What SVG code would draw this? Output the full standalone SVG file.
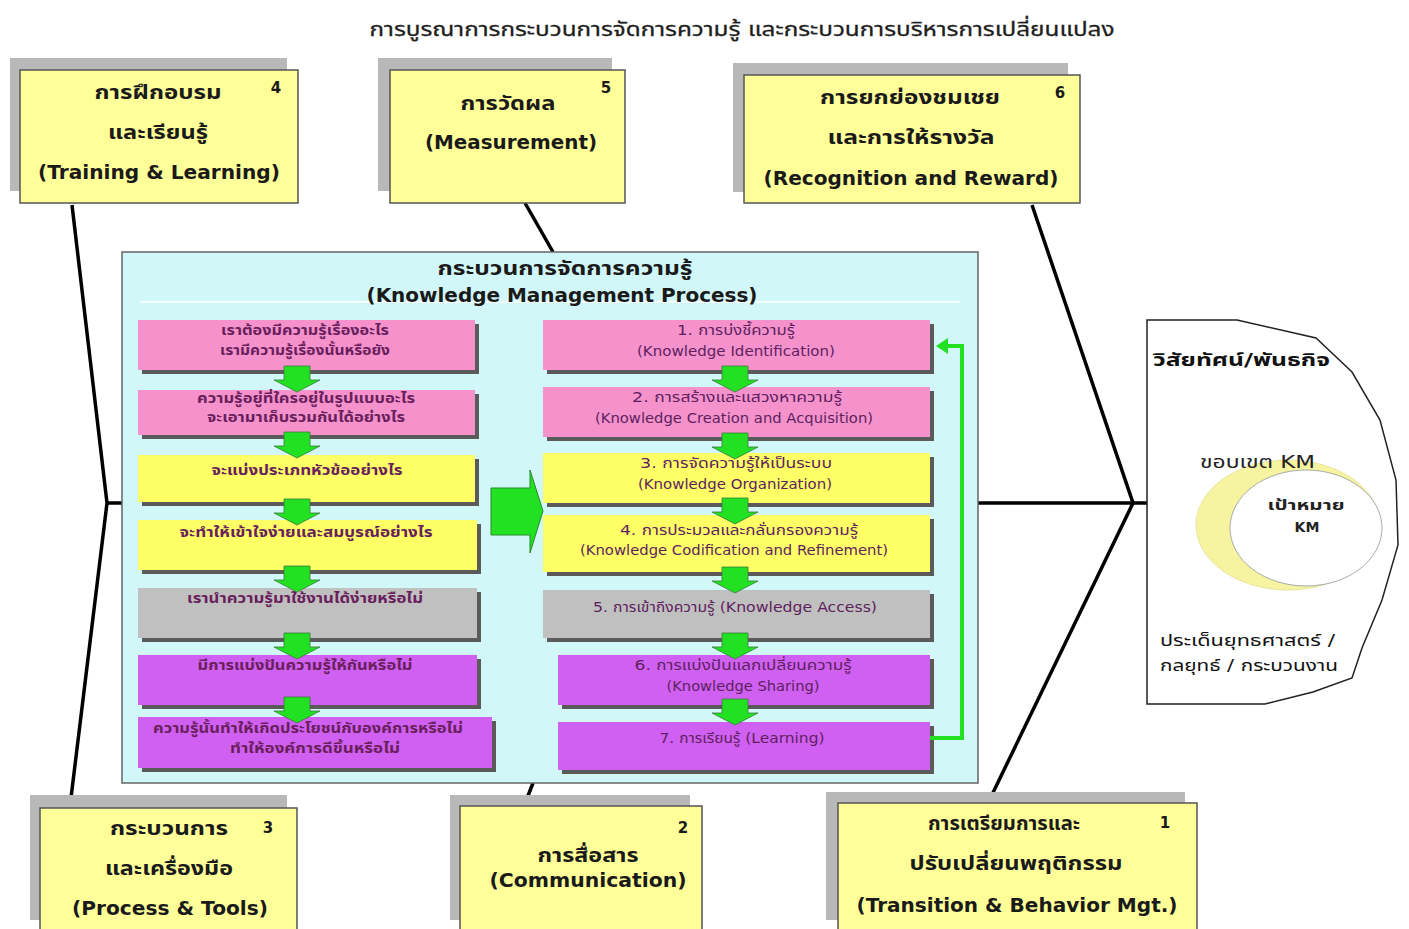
<svg xmlns="http://www.w3.org/2000/svg" xmlns:xlink="http://www.w3.org/1999/xlink" width="1409" height="929" viewBox="0 0 1409 929">
<style>
text{font-family:'DejaVu Sans','Noto Sans Thai','Loma','Tahoma',sans-serif;}
.t{text-anchor:middle;}
.big{font-size:19px;font-weight:bold;fill:#1a1a1a;}
.num{font-size:15px;font-weight:bold;fill:#1a1a1a;}
.cap{fill:#ffff99;stroke:#555;stroke-width:1.5;}
.capsh{fill:#b8b8b8;}
.sh{fill:#5a5a5a;}
.pink{fill:#f592cc;}
.yel{fill:#ffff66;}
.gry{fill:#c0c0c0;}
.pur{fill:#d060f2;}
.lt{font-size:13.5px;font-weight:bold;fill:#6a1f5c;}
.rt{font-size:14px;fill:#5e1f5e;}
.bone{stroke:#000;stroke-width:3.5;fill:none;}
</style>
<defs>
<path id="darr" d="M-13,0 H13 V14 H23 L0,26 L-23,14 H-13 Z" fill="#22e022" stroke="#3a7a3a" stroke-width="0.8"/>
</defs>
<rect width="1409" height="929" fill="#ffffff"/>

<text class="t" x="742" y="36" font-size="20" fill="#1e1e1e" stroke="#1e1e1e" stroke-width="0.3" textLength="745" lengthAdjust="spacingAndGlyphs">การบูรณาการกระบวนการจัดการความรู้  และกระบวนการบริหารการเปลี่ยนแปลง</text>

<g id="connectors">
<line class="bone" x1="107" y1="503" x2="1147" y2="503"/>
<polyline class="bone" points="72,205 107,503 70,806"/>
<line class="bone" x1="525" y1="203" x2="553" y2="252"/>
<line class="bone" x1="533" y1="783" x2="524" y2="806"/>
<polyline class="bone" points="1032,205 1133,503 988,803"/>
</g>

<g id="km-panel">
<rect x="122" y="252" width="856" height="531" fill="#d2f7f8" stroke="#666" stroke-width="1.5"/>
<line x1="140" y1="302" x2="960" y2="302" stroke="#f4ffff" stroke-width="2"/>
<text class="t" x="565" y="275" font-size="19" font-weight="bold" fill="#1a1a1a" textLength="255" lengthAdjust="spacingAndGlyphs">กระบวนการจัดการความรู้</text>
<text class="t" x="562" y="302" font-size="19" font-weight="bold" fill="#1a1a1a" textLength="391" lengthAdjust="spacingAndGlyphs">(Knowledge Management Process)</text>
</g>

<g id="left-1"><rect class="sh" x="142" y="324" width="337" height="50"/><rect class="pink" x="138" y="320" width="337" height="50"/>
<text class="t lt" x="305" y="335" textLength="168" lengthAdjust="spacingAndGlyphs">เราต้องมีความรู้เรื่องอะไร</text>
<text class="t lt" x="305" y="355" textLength="170" lengthAdjust="spacingAndGlyphs">เรามีความรู้เรื่องนั้นหรือยัง</text></g>
<g id="left-2"><rect class="sh" x="142" y="394" width="337" height="45"/><rect class="pink" x="138" y="390" width="337" height="45"/>
<text class="t lt" x="306" y="403" textLength="218" lengthAdjust="spacingAndGlyphs">ความรู้อยู่ที่ใครอยู่ในรูปแบบอะไร</text>
<text class="t lt" x="306" y="422" textLength="198" lengthAdjust="spacingAndGlyphs">จะเอามาเก็บรวมกันได้อย่างไร</text></g>
<g id="left-3"><rect class="sh" x="142" y="459" width="337" height="47"/><rect class="yel" x="138" y="455" width="337" height="47"/>
<text class="t lt" x="307" y="475" textLength="191" lengthAdjust="spacingAndGlyphs">จะแบ่งประเภทหัวข้ออย่างไร</text></g>
<g id="left-4"><rect class="sh" x="142" y="524" width="339" height="50"/><rect class="yel" x="138" y="520" width="339" height="50"/>
<text class="t lt" x="306" y="537" textLength="253" lengthAdjust="spacingAndGlyphs">จะทำให้เข้าใจง่ายและสมบูรณ์อย่างไร</text></g>
<g id="left-5"><rect class="sh" x="142" y="592" width="339" height="50"/><rect class="gry" x="138" y="588" width="339" height="50"/>
<text class="t lt" x="305" y="603" textLength="236" lengthAdjust="spacingAndGlyphs">เรานำความรู้มาใช้งานได้ง่ายหรือไม่</text></g>
<g id="left-6"><rect class="sh" x="142" y="659" width="339" height="50"/><rect class="pur" x="138" y="655" width="339" height="50"/>
<text class="t lt" x="305" y="670" textLength="215" lengthAdjust="spacingAndGlyphs">มีการแบ่งปันความรู้ให้กันหรือไม่</text></g>
<g id="left-7"><rect class="sh" x="142" y="721" width="354" height="51"/><rect class="pur" x="138" y="717" width="354" height="51"/>
<text class="t lt" x="308" y="733" textLength="310" lengthAdjust="spacingAndGlyphs">ความรู้นั้นทำให้เกิดประโยชน์กับองค์การหรือไม่</text>
<text class="t lt" x="315" y="753" textLength="170" lengthAdjust="spacingAndGlyphs">ทำให้องค์การดีขึ้นหรือไม่</text></g>

<g id="right-1"><rect class="sh" x="547" y="324" width="387" height="50"/><rect class="pink" x="543" y="320" width="387" height="50"/>
<text class="t rt" x="736" y="335" textLength="118" lengthAdjust="spacingAndGlyphs">1. การบ่งชี้ความรู้</text>
<text class="t rt" x="736" y="356" textLength="198" lengthAdjust="spacingAndGlyphs">(Knowledge Identification)</text></g>
<g id="right-2"><rect class="sh" x="547" y="391" width="387" height="50"/><rect class="pink" x="543" y="387" width="387" height="50"/>
<text class="t rt" x="737" y="402" textLength="210" lengthAdjust="spacingAndGlyphs">2. การสร้างและแสวงหาความรู้</text>
<text class="t rt" x="734" y="423" textLength="278" lengthAdjust="spacingAndGlyphs">(Knowledge Creation and Acquisition)</text></g>
<g id="right-3"><rect class="sh" x="547" y="457" width="387" height="50"/><rect class="yel" x="543" y="453" width="387" height="50"/>
<text class="t rt" x="736" y="468" textLength="192" lengthAdjust="spacingAndGlyphs">3. การจัดความรู้ให้เป็นระบบ</text>
<text class="t rt" x="735" y="489" textLength="194" lengthAdjust="spacingAndGlyphs">(Knowledge Organization)</text></g>
<g id="right-4"><rect class="sh" x="547" y="519" width="387" height="57"/><rect class="yel" x="543" y="515" width="387" height="57"/>
<text class="t rt" x="739" y="535" textLength="238" lengthAdjust="spacingAndGlyphs">4. การประมวลและกลั่นกรองความรู้</text>
<text class="t rt" x="734" y="555" textLength="308" lengthAdjust="spacingAndGlyphs">(Knowledge Codification and Refinement)</text></g>
<g id="right-5"><rect class="sh" x="547" y="594" width="387" height="48"/><rect class="gry" x="543" y="590" width="387" height="48"/>
<text class="t rt" x="735" y="612" textLength="284" lengthAdjust="spacingAndGlyphs">5. การเข้าถึงความรู้ (Knowledge Access)</text></g>
<g id="right-6"><rect class="sh" x="562" y="659" width="372" height="50"/><rect class="pur" x="558" y="655" width="372" height="50"/>
<text class="t rt" x="743" y="670" textLength="217" lengthAdjust="spacingAndGlyphs">6. การแบ่งปันแลกเปลี่ยนความรู้</text>
<text class="t rt" x="743" y="691" textLength="153" lengthAdjust="spacingAndGlyphs">(Knowledge Sharing)</text></g>
<g id="right-7"><rect class="sh" x="562" y="726" width="372" height="48"/><rect class="pur" x="558" y="722" width="372" height="48"/>
<text class="t rt" x="742" y="743" textLength="165" lengthAdjust="spacingAndGlyphs">7. การเรียนรู้ (Learning)</text></g>

<g id="flow-arrows">
<use xlink:href="#darr" href="#darr" x="297" y="366"/>
<use xlink:href="#darr" href="#darr" x="297" y="432"/>
<use xlink:href="#darr" href="#darr" x="297" y="499"/>
<use xlink:href="#darr" href="#darr" x="297" y="566"/>
<use xlink:href="#darr" href="#darr" x="297" y="633"/>
<use xlink:href="#darr" href="#darr" x="297" y="697"/>
<use xlink:href="#darr" href="#darr" x="735" y="366"/>
<use xlink:href="#darr" href="#darr" x="735" y="433"/>
<use xlink:href="#darr" href="#darr" x="735" y="498"/>
<use xlink:href="#darr" href="#darr" x="735" y="567"/>
<use xlink:href="#darr" href="#darr" x="735" y="633"/>
<use xlink:href="#darr" href="#darr" x="735" y="699"/>
<path d="M491,488 H530 V470 L543,511 L530,553 V535 H491 Z" fill="#22e022" stroke="#2a8a2a" stroke-width="1"/>
<polyline points="930,738 962,738 962,346 945,346" fill="none" stroke="#22e022" stroke-width="4"/>
<path d="M936,346 L948,338 L948,354 Z" fill="#22e022"/>
</g>

<g id="node-4"><rect class="capsh" x="10" y="58" width="277" height="133"/><rect class="cap" x="20" y="70" width="278" height="133"/>
<text class="t big" x="158" y="99" textLength="127" lengthAdjust="spacingAndGlyphs">การฝึกอบรม</text>
<text class="t big" x="158" y="139" textLength="100" lengthAdjust="spacingAndGlyphs">และเรียนรู้</text>
<text class="t big" x="159" y="179" textLength="242" lengthAdjust="spacingAndGlyphs">(Training &amp; Learning)</text>
<text class="t num" x="276" y="93">4</text></g>

<g id="node-5"><rect class="capsh" x="378" y="58" width="234" height="133"/><rect class="cap" x="390" y="70" width="235" height="133"/>
<text class="t big" x="508" y="110" textLength="95" lengthAdjust="spacingAndGlyphs">การวัดผล</text>
<text class="t big" x="511" y="149" textLength="172" lengthAdjust="spacingAndGlyphs">(Measurement)</text>
<text class="t num" x="606" y="93">5</text></g>

<g id="node-6"><rect class="capsh" x="733" y="63" width="335" height="129"/><rect class="cap" x="744" y="75" width="336" height="128"/>
<text class="t big" x="910" y="104" textLength="180" lengthAdjust="spacingAndGlyphs">การยกย่องชมเชย</text>
<text class="t big" x="911" y="144" textLength="167" lengthAdjust="spacingAndGlyphs">และการให้รางวัล</text>
<text class="t big" x="911" y="185" textLength="295" lengthAdjust="spacingAndGlyphs">(Recognition and Reward)</text>
<text class="t num" x="1060" y="98">6</text></g>

<g id="node-3"><rect class="capsh" x="30" y="795" width="257" height="125"/><rect class="cap" x="40" y="808" width="257" height="122"/>
<text class="t big" x="169" y="835" textLength="118" lengthAdjust="spacingAndGlyphs">กระบวนการ</text>
<text class="t big" x="169" y="875" textLength="128" lengthAdjust="spacingAndGlyphs">และเครื่องมือ</text>
<text class="t big" x="170" y="915" textLength="196" lengthAdjust="spacingAndGlyphs">(Process &amp; Tools)</text>
<text class="t num" x="268" y="833">3</text></g>

<g id="node-2"><rect class="capsh" x="450" y="795" width="240" height="125"/><rect class="cap" x="460" y="806" width="242" height="124"/>
<text class="t big" x="588" y="862" textLength="101" lengthAdjust="spacingAndGlyphs">การสื่อสาร</text>
<text class="t big" x="588" y="887" textLength="197" lengthAdjust="spacingAndGlyphs">(Communication)</text>
<text class="t num" x="683" y="833">2</text></g>

<g id="node-1"><rect class="capsh" x="826" y="792" width="359" height="128"/><rect class="cap" x="838" y="803" width="359" height="127"/>
<text class="t big" x="1004" y="830" textLength="152" lengthAdjust="spacingAndGlyphs">การเตรียมการและ</text>
<text class="t big" x="1016" y="870" textLength="213" lengthAdjust="spacingAndGlyphs">ปรับเปลี่ยนพฤติกรรม</text>
<text class="t big" x="1017" y="912" textLength="321" lengthAdjust="spacingAndGlyphs">(Transition &amp; Behavior Mgt.)</text>
<text class="t num" x="1165" y="828">1</text></g>

<g id="vision">
<path d="M1147,320 L1237,320 L1316,338 L1352,372 L1380,420 L1396,480 L1398,545 L1382,600 L1362,648 L1352,678 L1313,692 L1265,704 L1147,704 Z" fill="#fff" stroke="#222" stroke-width="1.5"/>
<text x="1153" y="366" font-size="18" font-weight="bold" fill="#111" textLength="177" lengthAdjust="spacingAndGlyphs">วิสัยทัศน์/พันธกิจ</text>
<ellipse cx="1288" cy="525" rx="92" ry="65" fill="#f6f4a0" stroke="#e8e6a0" stroke-width="1"/>
<ellipse cx="1306" cy="528" rx="76" ry="58" fill="#fff" stroke="#aaa" stroke-width="1"/>
<text x="1200" y="468" font-size="17" fill="#222" textLength="115" lengthAdjust="spacingAndGlyphs">ขอบเขต KM</text>
<text class="t" x="1306" y="510" font-size="14" font-weight="bold" fill="#222" textLength="77" lengthAdjust="spacingAndGlyphs">เป้าหมาย</text>
<text class="t" x="1307" y="532" font-size="14" font-weight="bold" fill="#222">KM</text>
<text x="1160" y="646" font-size="16" fill="#111" textLength="175" lengthAdjust="spacingAndGlyphs">ประเด็นยุทธศาสตร์ /</text>
<text x="1160" y="671" font-size="16" fill="#111" textLength="178" lengthAdjust="spacingAndGlyphs">กลยุทธ์ / กระบวนงาน</text>
</g>
</svg>
